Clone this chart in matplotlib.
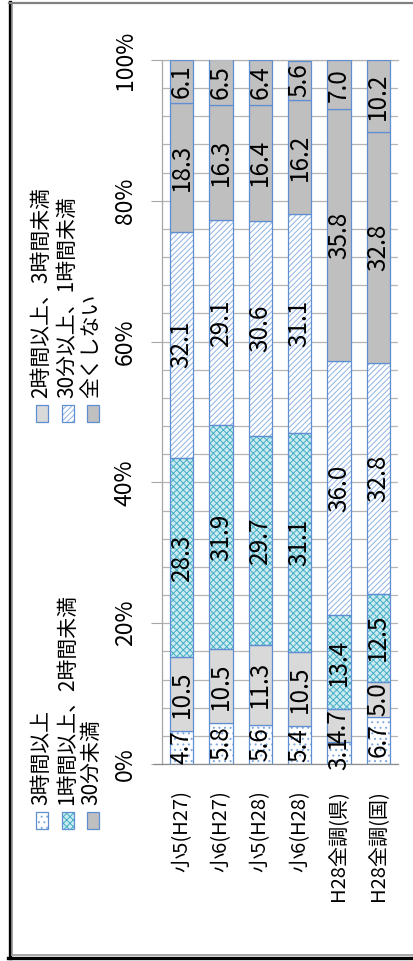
import numpy as np
import matplotlib
matplotlib.use("Agg")
import matplotlib.pyplot as plt
from matplotlib.patches import Rectangle
from matplotlib.lines import Line2D

plt.rcParams['font.family'] = ['Noto Sans CJK JP', 'DejaVu Sans']
plt.rcParams['hatch.linewidth'] = 0.7

# categories (left to right) and series (stacked from 0%)
categories = ['小5(H27)', '小6(H27)', '小5(H28)', '小6(H28)', 'H28全調(県)', 'H28全調(国)']
series_names = ['3時間以上', '2時間以上、3時間未満', '1時間以上、2時間未満',
                '30分以上、1時間未満', '30分未満', '全くしない']
over3h = [4.7, 5.8, 5.6, 5.4, 3.1, 6.7]
h2_3 = [10.5, 10.5, 11.3, 10.5, 4.7, 5.0]
h1_2 = [28.3, 31.9, 29.7, 31.1, 13.4, 12.5]
m30_60 = [32.1, 29.1, 30.6, 31.1, 36.0, 32.8]
under30 = [18.3, 16.3, 16.4, 16.2, 35.8, 32.8]
none = [6.1, 6.5, 6.4, 5.6, 7.0, 10.2]
values = [over3h, h2_3, h1_2, m30_60, under30, none]

# fill, hatch, hatch colour per series
edge = '#5f8fd0'
styles = [
    dict(fc='white', hatch='...', hc='#7fa6dc'),
    dict(fc='#d9d9d9', hatch=None, hc=None),
    dict(fc='#cdebf1', hatch='xxxxx', hc='#43aec5'),
    dict(fc='white', hatch='//////', hc='#8fb2e2'),
    dict(fc='#bfbfbf', hatch=None, hc=None),
    dict(fc='#c0c0c0', hatch=None, hc=None),
]

W, H = 414, 961
fig = plt.figure(figsize=(W / 100, H / 100), dpi=100)


def fx(px):
    return px / W


def fy(py):
    return 1 - py / H


ax = fig.add_axes([fx(162), fy(764), fx(398) - fx(162), fy(60) - fy(764)])

x = np.arange(len(categories))
bottom = np.zeros(len(categories))
for vals, st in zip(values, styles):
    vals = np.array(vals)
    if st['hatch']:
        ax.bar(x, vals, 0.6, bottom=bottom, color=st['fc'], hatch=st['hatch'],
               edgecolor=st['hc'], linewidth=0, zorder=2)
        ax.bar(x, vals, 0.6, bottom=bottom, fill=False, edgecolor=edge,
               linewidth=0.9, zorder=3)
    else:
        ax.bar(x, vals, 0.6, bottom=bottom, color=st['fc'], edgecolor=edge,
               linewidth=0.9, zorder=3)
    for xi, b, v in zip(x, bottom, vals):
        ax.text(xi, b + v / 2, f'{v:.1f}', rotation=90, ha='center', va='center',
                fontsize=17.5, color='black', zorder=5)
    bottom += vals

ax.set_xlim(-0.5, len(categories) - 0.5)
ax.set_ylim(0, 100)
ax.set_yticks(range(0, 101, 20))
ax.set_yticklabels([f'{v}%' for v in range(0, 101, 20)], rotation=90,
                   ha='right', va='center', fontsize=16.5)
ax.set_yticks(range(0, 101, 4), minor=True)
ax.tick_params(axis='y', which='major', length=8, color='#a6a6a6', pad=10)
ax.tick_params(axis='y', which='minor', length=0)
ax.grid(axis='y', which='both', color='#b4b4b4', linewidth=0.9, zorder=0)
ax.set_axisbelow(True)

ax.set_xticks(x)
ax.set_xticklabels(categories, rotation=90, ha='center', va='top', fontsize=14.5)
ax.tick_params(axis='x', length=0, pad=19)

ax.spines['right'].set_visible(False)
ax.spines['left'].set_color('#a6a6a6')
ax.spines['top'].set_color('#b4b4b4')
ax.spines['bottom'].set_color('#8c8c8c')
for s in ['left', 'top', 'bottom']:
    ax.spines[s].set_linewidth(0.9)
# extend the 0% axis line out to the tick ends
fig.add_artist(Line2D([fx(154), fx(162)], [fy(764), fy(764)], color='#8c8c8c', lw=0.9))

# legend, laid out in three rows of two entries
leg_rows_x = [42.5, 68, 92.5]
leg_marker_y = [820, 413]
leg_text_y = [805, 398]
order = [(0, 0), (0, 1), (1, 0), (1, 1), (2, 0), (2, 1)]
for (r, c), name, st in zip(order, series_names, styles):
    cx, cy = leg_rows_x[r], leg_marker_y[c]
    mw, mh = 12, 17
    rect_xy = (fx(cx - mw / 2), fy(cy + mh / 2))
    rw, rh = fx(mw), mh / H
    if st['hatch']:
        fig.add_artist(Rectangle(rect_xy, rw, rh, transform=fig.transFigure,
                                 facecolor=st['fc'], hatch=st['hatch'],
                                 edgecolor=st['hc'], linewidth=0))
        fig.add_artist(Rectangle(rect_xy, rw, rh, transform=fig.transFigure,
                                 fill=False, edgecolor=edge, linewidth=0.9))
    else:
        fig.add_artist(Rectangle(rect_xy, rw, rh, transform=fig.transFigure,
                                 facecolor=st['fc'], edgecolor=edge, linewidth=0.9))
    fig.text(fx(cx - 1), fy(leg_text_y[c]), name, rotation=90, ha='center',
             va='bottom', fontsize=15)

# chart frame
fig.add_artist(Line2D([fx(9.5), fx(9.5)], [fy(2), fy(958)], color='black', lw=2.4))
fig.add_artist(Line2D([fx(12), fx(12)], [fy(3), fy(955)], color='#9a9a9a', lw=1.2))
fig.add_artist(Line2D([fx(8), fx(414)], [fy(957.5), fy(957.5)], color='black', lw=2.4))
fig.add_artist(Line2D([fx(12), fx(414)], [fy(954.5), fy(954.5)], color='#9a9a9a', lw=1.2))
fig.add_artist(Line2D([fx(9), fx(414)], [fy(2.5), fy(2.5)], color='#808080', lw=1.6))

fig.savefig('out.png', dpi=100)
